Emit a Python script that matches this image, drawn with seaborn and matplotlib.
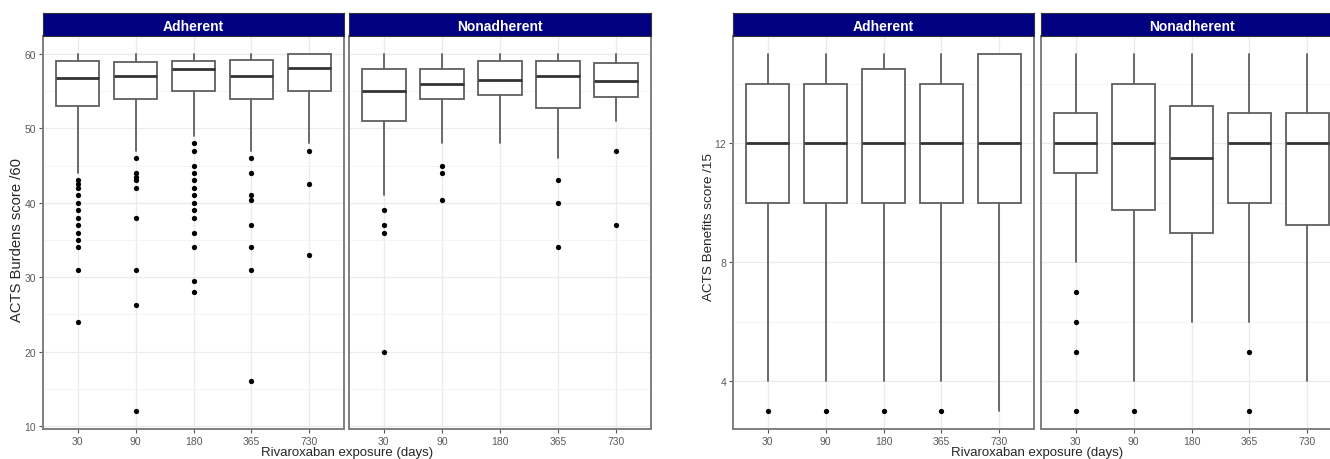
import numpy as np
import pandas as pd
import matplotlib
matplotlib.use("Agg")
import matplotlib.pyplot as plt
import seaborn as sns

# =============================================================================
# DATA
# =============================================================================
DAYS = ["30", "90", "180", "365", "730"]
GROUPS = ["Adherent", "Nonadherent"]

# ACTS Burdens score /60 -- Adherent
burd_adh_lo = [44, 47, 49, 47, 48]
burd_adh_q1 = [53, 54, 55, 54, 55]
burd_adh_med = [56.7, 57, 57.9, 57, 58.1]
burd_adh_q3 = [59, 58.9, 59, 59.2, 60]
burd_adh_hi = [60, 60, 60, 60, 60]
burd_adh_out = [[43, 42.5, 42, 41, 40, 39, 38, 37, 36, 35, 34, 31, 24],
                [46, 44, 43.5, 43, 42, 38, 31, 26.3, 12],
                [48, 47, 45, 44, 43, 42, 41, 40, 39, 38, 36, 34, 29.5, 28],
                [46, 44, 41, 40.3, 37, 34, 31, 16],
                [47, 42.5, 33]]

# ACTS Burdens score /60 -- Nonadherent
burd_non_lo = [41, 48, 48, 46, 51]
burd_non_q1 = [51, 54, 54.5, 52.7, 54.2]
burd_non_med = [55, 56, 56.5, 57, 56.3]
burd_non_q3 = [58, 58, 59, 59, 58.75]
burd_non_hi = [60, 60, 60, 60, 60]
burd_non_out = [[39, 37, 36, 20],
                [45, 44, 40.3],
                [],
                [43, 40, 34],
                [47, 37]]

# ACTS Benefits score /15 -- Adherent
ben_adh_lo = [4, 4, 4, 4, 3]
ben_adh_q1 = [10, 10, 10, 10, 10]
ben_adh_med = [12, 12, 12, 12, 12]
ben_adh_q3 = [14, 14, 14.5, 14, 15]
ben_adh_hi = [15, 15, 15, 15, 15]
ben_adh_out = [[3], [3], [3], [3], []]

# ACTS Benefits score /15 -- Nonadherent
ben_non_lo = [8, 4, 6, 6, 4]
ben_non_q1 = [11, 9.75, 9, 10, 9.25]
ben_non_med = [12, 12, 11.5, 12, 12]
ben_non_q3 = [13, 14, 13.25, 13, 13]
ben_non_hi = [15, 15, 15, 15, 15]
ben_non_out = [[7, 6, 5, 3], [3], [], [5, 3], []]

# =============================================================================
# STYLE
# =============================================================================
sns.set_theme(style="white")
plt.rcParams['font.family'] = ['Liberation Sans', 'DejaVu Sans']

W, H = 1330, 460
NAVY = '#000080'
BOX_C = '#5f5f5f'
MED_C = '#333333'
BORDER_C = '#7f7f7f'


def frac(x0, x1, ytop, ybot):
    # pixel box -> figure fraction rect
    return [x0 / W, (H - ybot) / H, (x1 - x0) / W, (ybot - ytop) / H]


def draw_panel(ax, lo, q1, med, q3, hi, out, ylim, ticks, minor, show_y):
    stats = [dict(whislo=a, q1=b, med=c, q3=d, whishi=e, fliers=[])
             for a, b, c, d, e in zip(lo, q1, med, q3, hi)]
    ax.bxp(stats, positions=range(len(DAYS)), widths=0.75, showcaps=False,
           showfliers=False, patch_artist=True,
           boxprops=dict(facecolor='white', edgecolor=BOX_C, linewidth=1.3),
           whiskerprops=dict(color=BOX_C, linewidth=1.3),
           medianprops=dict(color=MED_C, linewidth=2.0))

    pts = pd.DataFrame([(d, v) for d, vals in zip(DAYS, out) for v in vals],
                       columns=['day', 'value'])
    if len(pts):
        sns.stripplot(data=pts, x='day', y='value', order=DAYS, jitter=False,
                      color='black', size=3.8, ax=ax, zorder=4)

    ax.set_xlim(-0.6, len(DAYS) - 0.4)
    ax.set_ylim(*ylim)
    ax.set_xticks(range(len(DAYS)))
    ax.set_xticklabels(DAYS)
    ax.set_yticks(ticks)
    ax.set_yticks(minor, minor=True)
    ax.set_xlabel('')
    ax.set_ylabel('')

    ax.set_axisbelow(True)
    ax.grid(True, which='major', color='#ebebeb', linewidth=0.9)
    ax.grid(True, which='minor', axis='y', color='#f3f3f3', linewidth=0.6)

    ax.tick_params(axis='both', which='major', length=3, width=0.8,
                   color='#555555', labelsize=7.5, labelcolor='#5a5a5a', pad=2,
                   bottom=True, left=show_y, labelleft=show_y)
    ax.tick_params(which='minor', length=0)
    for s in ax.spines.values():
        s.set_color(BORDER_C)
        s.set_linewidth(1.4)


def draw_strip(fig, rect, label):
    sax = fig.add_axes(rect)
    sax.set_facecolor(NAVY)
    sax.set_xticks([])
    sax.set_yticks([])
    for s in sax.spines.values():
        s.set_color('#333333')
        s.set_linewidth(0.8)
    sax.text(0.5, 0.45, label, transform=sax.transAxes, ha='center', va='center',
             color='white', fontsize=10, fontweight='bold')


fig = plt.figure(figsize=(W / 100, H / 100), dpi=100)

PANEL_TOP, PANEL_BOT, STRIP_TOP = 37, 430, 14
charts = [
    dict(xs=[(43, 344), (349, 651)],
         data=[(burd_adh_lo, burd_adh_q1, burd_adh_med, burd_adh_q3, burd_adh_hi, burd_adh_out),
               (burd_non_lo, burd_non_q1, burd_non_med, burd_non_q3, burd_non_hi, burd_non_out)],
         ylim=(9.6, 62.4), ticks=[10, 20, 30, 40, 50, 60],
         minor=[15, 25, 35, 45, 55], ylabel='ACTS Burdens score /60',
         ylab_x=17, ylab_y=240, ylab_fs=10.6),
    dict(xs=[(733, 1034), (1041, 1342)],
         data=[(ben_adh_lo, ben_adh_q1, ben_adh_med, ben_adh_q3, ben_adh_hi, ben_adh_out),
               (ben_non_lo, ben_non_q1, ben_non_med, ben_non_q3, ben_non_hi, ben_non_out)],
         ylim=(2.4, 15.6), ticks=[4, 8, 12],
         minor=[6, 10, 14], ylabel='ACTS Benefits score /15',
         ylab_x=709, ylab_y=227, ylab_fs=9.7),
]

for ch in charts:
    for i, ((x0, x1), d, grp) in enumerate(zip(ch['xs'], ch['data'], GROUPS)):
        ax = fig.add_axes(frac(x0, x1, PANEL_TOP, PANEL_BOT))
        draw_panel(ax, *d, ylim=ch['ylim'], ticks=ch['ticks'], minor=ch['minor'],
                   show_y=(i == 0))
        draw_strip(fig, frac(x0, x1, STRIP_TOP, PANEL_TOP), grp)
    xc = (ch['xs'][0][0] + ch['xs'][1][1]) / 2
    fig.text(xc / W, (H - 453) / H, 'Rivaroxaban exposure (days)',
             ha='center', va='center', fontsize=9.5)
    fig.text(ch['ylab_x'] / W, (H - ch['ylab_y']) / H, ch['ylabel'],
             ha='center', va='center', rotation=90, fontsize=ch['ylab_fs'])

fig.savefig('out.png', dpi=100)
